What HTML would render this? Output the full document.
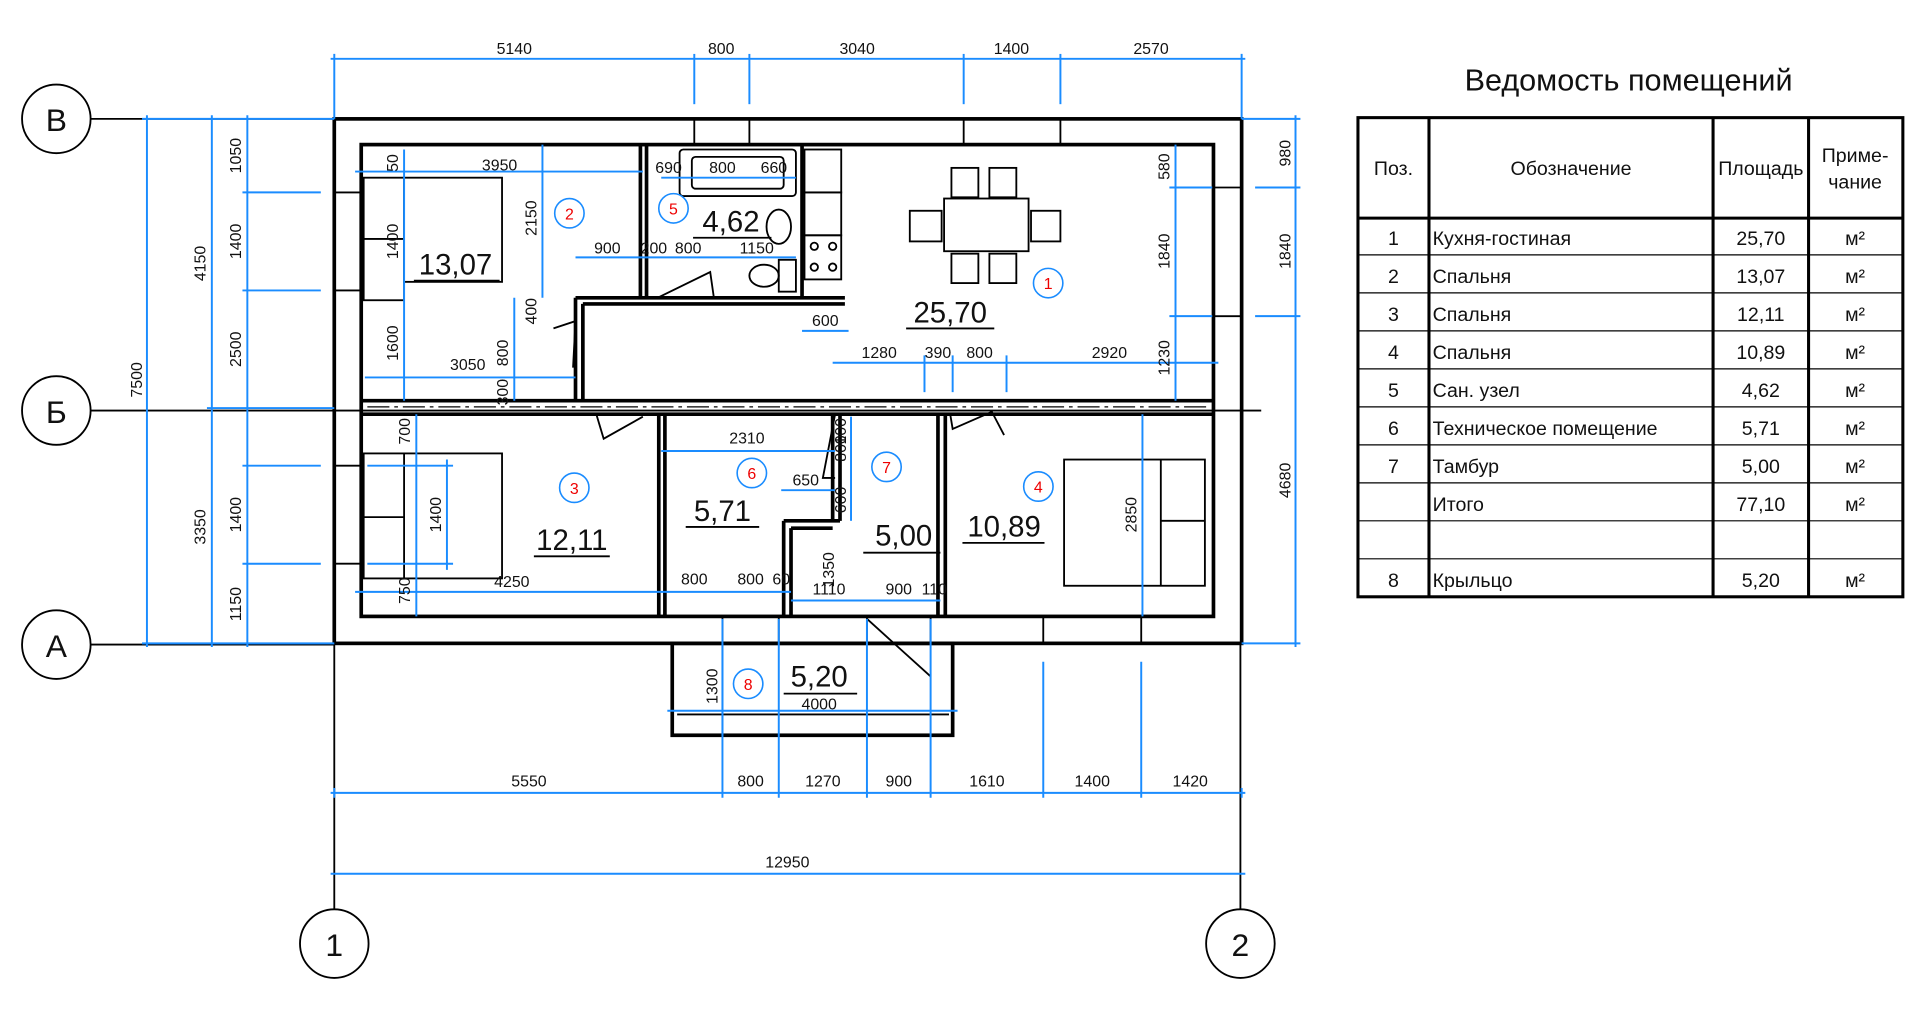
<!DOCTYPE html>
<html><head><meta charset="utf-8"><style>
html,body{margin:0;padding:0;background:#fff;width:1920px;height:1011px;overflow:hidden}
svg{display:block}
text{font-family:"Liberation Sans Narrow","Liberation Sans","DejaVu Sans",sans-serif;fill:#111}
.d{stroke:#1a8cff;stroke-width:1.6;fill:none}
.w{stroke:#000;stroke-width:3;fill:none}
.t{stroke:#000;stroke-width:1.5;fill:none}
.s{font-size:13px}
.r{fill:#e00;font-size:13px}
.c{stroke:#1a8cff;stroke-width:1.3;fill:#fff}
</style></head><body>
<svg width="1920" height="1011" viewBox="0 0 1568 825" preserveAspectRatio="none">
<!-- axes -->
<g class="t">
<circle cx="46" cy="97" r="28"/><circle cx="46" cy="335" r="28"/><circle cx="46" cy="526" r="28"/>
<circle cx="273" cy="770" r="28"/><circle cx="1013" cy="770" r="28"/>
<line x1="74" y1="97" x2="273" y2="97"/><line x1="74" y1="335" x2="1030" y2="335"/><line x1="74" y1="526" x2="273" y2="526"/>
<line x1="273" y1="525" x2="273" y2="742"/><line x1="1013" y1="525" x2="1013" y2="742"/>
</g>
<g font-size="26" text-anchor="middle"><text x="46" y="107">В</text><text x="46" y="345">Б</text><text x="46" y="536">А</text><text x="273" y="780">1</text><text x="1013" y="780">2</text></g>
<!-- walls -->
<g class="w">
<rect x="273" y="97" width="741" height="428"/>
<rect x="295" y="118" width="696" height="385"/>
<line x1="295" y1="327" x2="991" y2="327"/><line x1="295" y1="338" x2="991" y2="338"/>
<line x1="523" y1="118" x2="523" y2="243"/><line x1="528" y1="118" x2="528" y2="243"/>
<line x1="655" y1="118" x2="655" y2="243"/>
<line x1="470" y1="243" x2="690" y2="243"/><line x1="476" y1="248" x2="690" y2="248"/>
<line x1="470" y1="243" x2="470" y2="327"/><line x1="476" y1="248" x2="476" y2="327"/>
<line x1="538" y1="338" x2="538" y2="503"/><line x1="543" y1="338" x2="543" y2="503"/>
<line x1="766" y1="338" x2="766" y2="503"/><line x1="772" y1="338" x2="772" y2="503"/>
<line x1="680" y1="338" x2="680" y2="425"/><line x1="686" y1="338" x2="686" y2="425"/>
<line x1="640" y1="425" x2="686" y2="425"/><line x1="646" y1="431" x2="680" y2="431"/>
<line x1="640" y1="425" x2="640" y2="503"/><line x1="646" y1="431" x2="646" y2="503"/>
<rect x="549" y="525" width="229" height="75"/>
</g>
<g class="t">
<line x1="567" y1="97" x2="567" y2="118"/><line x1="612" y1="97" x2="612" y2="118"/><line x1="787" y1="97" x2="787" y2="118"/><line x1="866" y1="97" x2="866" y2="118"/>
<line x1="273" y1="157" x2="295" y2="157"/><line x1="273" y1="237" x2="295" y2="237"/><line x1="273" y1="380" x2="295" y2="380"/><line x1="273" y1="460" x2="295" y2="460"/>
<line x1="991" y1="153" x2="1014" y2="153"/><line x1="991" y1="258" x2="1014" y2="258"/>
<line x1="590" y1="503" x2="590" y2="525"/><line x1="636" y1="503" x2="636" y2="525"/><line x1="708" y1="503" x2="708" y2="525"/><line x1="760" y1="503" x2="760" y2="525"/><line x1="852" y1="503" x2="852" y2="525"/><line x1="932" y1="503" x2="932" y2="525"/>
<line x1="708" y1="505" x2="760" y2="552"/>
<line x1="553" y1="583" x2="775" y2="583"/>
<!-- doors -->
<path d="M487 338 L493 358 L525 340"/><path d="M776 338 L778 350 L810 336 L820 355"/>
<path d="M452 268 L470 262 L468 300"/><path d="M537 243 L580 222 L583 243"/>
<path d="M682 338 L672 390 L682 390"/>
<!-- furniture room2 -->
<rect x="297" y="145" width="33" height="100"/><line x1="297" y1="195" x2="330" y2="195"/>
<rect x="330" y="145" width="80" height="85"/>
<!-- room3 -->
<rect x="297" y="370" width="113" height="102"/><line x1="330" y1="370" x2="330" y2="472"/><line x1="297" y1="422" x2="330" y2="422"/>
<!-- room4 bed -->
<rect x="869" y="375" width="115" height="103"/><line x1="948" y1="375" x2="948" y2="478"/><line x1="948" y1="425" x2="984" y2="425"/>
<!-- table -->
<rect x="771" y="162" width="69" height="43"/>
<rect x="777" y="137" width="22" height="24"/><rect x="808" y="137" width="22" height="24"/>
<rect x="777" y="207" width="22" height="24"/><rect x="808" y="207" width="22" height="24"/>
<rect x="743" y="172" width="26" height="25"/><rect x="842" y="172" width="24" height="25"/>
<!-- bath -->
<rect x="555" y="122" width="95" height="38" rx="3"/><rect x="565" y="128" width="75" height="26" rx="3"/>
<ellipse cx="636" cy="185" rx="10" ry="14"/><ellipse cx="624" cy="225" rx="12" ry="9"/><rect x="636" y="212" width="14" height="26"/>
<rect x="657" y="122" width="30" height="35"/><rect x="657" y="157" width="30" height="35"/><rect x="657" y="192" width="30" height="36"/>
<circle cx="665" cy="201" r="3"/><circle cx="680" cy="201" r="3"/><circle cx="665" cy="218" r="3"/><circle cx="680" cy="218" r="3"/>
<!-- area underlines -->
<line x1="338" y1="229" x2="408" y2="229"/><line x1="566" y1="194" x2="630" y2="194"/><line x1="740" y1="268" x2="812" y2="268"/>
<line x1="436" y1="454" x2="498" y2="454"/><line x1="560" y1="430" x2="620" y2="430"/><line x1="705" y1="451" x2="768" y2="451"/><line x1="786" y1="443" x2="853" y2="443"/><line x1="640" y1="566" x2="700" y2="566"/>
</g>
<line x1="300" y1="332" x2="985" y2="332" stroke="#000" stroke-width="1" stroke-dasharray="18,4,3,4"/>
<!-- dimension lines -->
<g class="d">
<line x1="270" y1="48" x2="1017" y2="48"/>
<line x1="273" y1="44" x2="273" y2="97"/><line x1="567" y1="44" x2="567" y2="85"/><line x1="612" y1="44" x2="612" y2="85"/><line x1="787" y1="44" x2="787" y2="85"/><line x1="866" y1="44" x2="866" y2="85"/><line x1="1014" y1="44" x2="1014" y2="97"/>
<line x1="270" y1="647" x2="1017" y2="647"/>
<line x1="273" y1="643" x2="273" y2="651"/><line x1="590" y1="505" x2="590" y2="651"/><line x1="636" y1="505" x2="636" y2="651"/><line x1="708" y1="505" x2="708" y2="651"/><line x1="760" y1="505" x2="760" y2="651"/><line x1="852" y1="540" x2="852" y2="651"/><line x1="932" y1="540" x2="932" y2="651"/><line x1="1014" y1="643" x2="1014" y2="651"/>
<line x1="270" y1="713" x2="1017" y2="713"/>
<line x1="120" y1="94" x2="120" y2="528"/><line x1="116" y1="97" x2="273" y2="97"/><line x1="116" y1="525" x2="273" y2="525"/>
<line x1="173" y1="94" x2="173" y2="528"/><line x1="169" y1="333" x2="273" y2="333"/>
<line x1="202" y1="94" x2="202" y2="528"/>
<line x1="198" y1="157" x2="262" y2="157"/><line x1="198" y1="237" x2="262" y2="237"/><line x1="198" y1="380" x2="262" y2="380"/><line x1="198" y1="460" x2="262" y2="460"/>
<line x1="1058" y1="94" x2="1058" y2="528"/><line x1="1025" y1="153" x2="1062" y2="153"/><line x1="1025" y1="258" x2="1062" y2="258"/><line x1="1014" y1="525" x2="1062" y2="525"/><line x1="1014" y1="97" x2="1062" y2="97"/>
<line x1="960" y1="118" x2="960" y2="327"/><line x1="955" y1="153" x2="990" y2="153"/><line x1="955" y1="258" x2="990" y2="258"/>
<line x1="933" y1="338" x2="933" y2="503"/>
<line x1="290" y1="140" x2="525" y2="140"/><line x1="298" y1="308" x2="470" y2="308"/>
<line x1="330" y1="122" x2="330" y2="327"/>
<line x1="443" y1="118" x2="443" y2="243"/><line x1="420" y1="243" x2="420" y2="327"/>
<line x1="470" y1="210" x2="650" y2="210"/><line x1="540" y1="145" x2="650" y2="145"/>
<line x1="655" y1="270" x2="693" y2="270"/>
<line x1="680" y1="296" x2="995" y2="296"/><line x1="755" y1="290" x2="755" y2="320"/><line x1="778" y1="290" x2="778" y2="320"/><line x1="822" y1="290" x2="822" y2="320"/>
<line x1="540" y1="368" x2="682" y2="368"/><line x1="638" y1="400" x2="682" y2="400"/><line x1="695" y1="340" x2="695" y2="425"/>
<line x1="290" y1="483" x2="646" y2="483"/><line x1="646" y1="490" x2="768" y2="490"/>
<line x1="365" y1="375" x2="365" y2="465"/><line x1="300" y1="380" x2="370" y2="380"/><line x1="300" y1="460" x2="370" y2="460"/>
<line x1="545" y1="580" x2="782" y2="580"/><line x1="590" y1="525" x2="590" y2="600"/>
<line x1="340" y1="338" x2="340" y2="503"/>
</g>
<!-- dimension labels -->
<g class="s" text-anchor="middle">
<text x="420" y="44">5140</text><text x="589" y="44">800</text><text x="700" y="44">3040</text><text x="826" y="44">1400</text><text x="940" y="44">2570</text>
<text x="432" y="642">5550</text><text x="613" y="642">800</text><text x="672" y="642">1270</text><text x="734" y="642">900</text><text x="806" y="642">1610</text><text x="892" y="642">1400</text><text x="972" y="642">1420</text>
<text x="643" y="708">12950</text>
<text x="408" y="139">3950</text><text x="382" y="302">3050</text><text x="496" y="207">900</text><text x="534" y="207">200</text><text x="562" y="207">800</text><text x="618" y="207">1150</text>
<text x="546" y="141">690</text><text x="590" y="141">800</text><text x="632" y="141">660</text>
<text x="674" y="266">600</text><text x="718" y="292">1280</text><text x="766" y="292">390</text><text x="800" y="292">800</text><text x="906" y="292">2920</text>
<text x="610" y="362">2310</text><text x="658" y="396">650</text><text x="418" y="479">4250</text><text x="567" y="477">800</text><text x="613" y="477">800</text><text x="638" y="477">60</text><text x="677" y="485">1110</text><text x="734" y="485">900</text><text x="763" y="485">110</text>
<text x="669" y="579">4000</text>
</g>
<g class="s" text-anchor="middle">
<text transform="translate(116,310) rotate(-90)">7500</text>
<text transform="translate(168,215) rotate(-90)">4150</text><text transform="translate(168,430) rotate(-90)">3350</text>
<text transform="translate(197,127) rotate(-90)">1050</text><text transform="translate(197,197) rotate(-90)">1400</text><text transform="translate(197,285) rotate(-90)">2500</text><text transform="translate(197,420) rotate(-90)">1400</text><text transform="translate(197,493) rotate(-90)">1150</text>
<text transform="translate(1054,125) rotate(-90)">980</text><text transform="translate(1054,205) rotate(-90)">1840</text><text transform="translate(1054,392) rotate(-90)">4680</text>
<text transform="translate(955,136) rotate(-90)">580</text><text transform="translate(955,205) rotate(-90)">1840</text><text transform="translate(955,292) rotate(-90)">1230</text>
<text transform="translate(928,420) rotate(-90)">2850</text>
<text transform="translate(325,133) rotate(-90)">50</text><text transform="translate(325,197) rotate(-90)">1400</text><text transform="translate(325,280) rotate(-90)">1600</text>
<text transform="translate(438,178) rotate(-90)">2150</text><text transform="translate(438,254) rotate(-90)">400</text><text transform="translate(415,288) rotate(-90)">800</text><text transform="translate(415,320) rotate(-90)">300</text>
<text transform="translate(335,352) rotate(-90)">700</text><text transform="translate(360,420) rotate(-90)">1400</text><text transform="translate(335,482) rotate(-90)">750</text>
<text transform="translate(691,366) rotate(-90)">800</text><text transform="translate(691,408) rotate(-90)">600</text><text transform="translate(691,352) rotate(-90)">100</text>
<text transform="translate(681,465) rotate(-90)">1350</text><text transform="translate(586,560) rotate(-90)">1300</text>
</g>
<!-- room numbers -->
<g>
<circle class="c" cx="465" cy="174" r="12"/><circle class="c" cx="550" cy="170" r="12"/><circle class="c" cx="856" cy="231" r="12"/><circle class="c" cx="469" cy="398" r="12"/><circle class="c" cx="614" cy="386" r="12"/><circle class="c" cx="724" cy="381" r="12"/><circle class="c" cx="848" cy="397" r="12"/><circle class="c" cx="611" cy="558" r="12"/>
</g>
<g class="r" text-anchor="middle"><text class="r" x="465" y="179">2</text><text class="r" x="550" y="175">5</text><text class="r" x="856" y="236">1</text><text class="r" x="469" y="403">3</text><text class="r" x="614" y="391">6</text><text class="r" x="724" y="386">7</text><text class="r" x="848" y="402">4</text><text class="r" x="611" y="563">8</text></g>
<g font-size="24" text-anchor="middle">
<text x="372" y="224">13,07</text><text x="597" y="189">4,62</text><text x="776" y="263">25,70</text><text x="467" y="449">12,11</text><text x="590" y="425">5,71</text><text x="738" y="445">5,00</text><text x="820" y="438">10,89</text><text x="669" y="560">5,20</text>
</g>
<!-- table -->
<text x="1330" y="74" font-size="25" text-anchor="middle">Ведомость помещений</text>
<g stroke="#000" fill="none">
<rect x="1109" y="96" width="445" height="391" stroke-width="2.5"/>
<line x1="1167" y1="96" x2="1167" y2="487" stroke-width="2.5"/><line x1="1399" y1="96" x2="1399" y2="487" stroke-width="2.5"/><line x1="1477" y1="96" x2="1477" y2="487" stroke-width="2.5"/>
<line x1="1109" y1="178" x2="1554" y2="178" stroke-width="2.5"/>
<g stroke-width="1"><line x1="1109" y1="208" x2="1554" y2="208"/><line x1="1109" y1="239" x2="1554" y2="239"/><line x1="1109" y1="270" x2="1554" y2="270"/><line x1="1109" y1="301" x2="1554" y2="301"/><line x1="1109" y1="332" x2="1554" y2="332"/><line x1="1109" y1="363" x2="1554" y2="363"/><line x1="1109" y1="394" x2="1554" y2="394"/><line x1="1109" y1="425" x2="1554" y2="425"/><line x1="1109" y1="456" x2="1554" y2="456"/></g>
</g>
<g font-size="16">
<text x="1138" y="143" text-anchor="middle">Поз.</text><text x="1283" y="143" text-anchor="middle">Обозначение</text><text x="1438" y="143" text-anchor="middle">Площадь</text><text x="1515" y="132" text-anchor="middle">Приме-</text><text x="1515" y="154" text-anchor="middle">чание</text>
<g text-anchor="middle"><text x="1138" y="200">1</text><text x="1138" y="231">2</text><text x="1138" y="262">3</text><text x="1138" y="293">4</text><text x="1138" y="324">5</text><text x="1138" y="355">6</text><text x="1138" y="386">7</text><text x="1138" y="479">8</text>
<text x="1438" y="200">25,70</text><text x="1438" y="231">13,07</text><text x="1438" y="262">12,11</text><text x="1438" y="293">10,89</text><text x="1438" y="324">4,62</text><text x="1438" y="355">5,71</text><text x="1438" y="386">5,00</text><text x="1438" y="417">77,10</text><text x="1438" y="479">5,20</text></g>
<text x="1170" y="200">Кухня-гостиная</text><text x="1170" y="231">Спальня</text><text x="1170" y="262">Спальня</text><text x="1170" y="293">Спальня</text><text x="1170" y="324">Сан. узел</text><text x="1170" y="355">Техническое помещение</text><text x="1170" y="386">Тамбур</text><text x="1170" y="417">Итого</text><text x="1170" y="479">Крыльцо</text>
<g text-anchor="middle"><text x="1515" y="200">м²</text><text x="1515" y="231">м²</text><text x="1515" y="262">м²</text><text x="1515" y="293">м²</text><text x="1515" y="324">м²</text><text x="1515" y="355">м²</text><text x="1515" y="386">м²</text><text x="1515" y="417">м²</text><text x="1515" y="479">м²</text></g>
</g>
</svg>
</body></html>
